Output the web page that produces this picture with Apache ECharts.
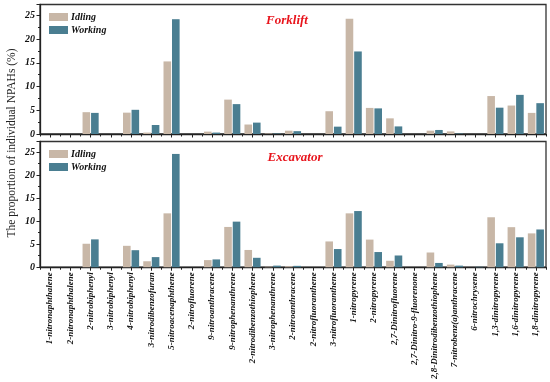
<!DOCTYPE html>
<html>
<head>
<meta charset="utf-8">
<script src="https://cdn.jsdelivr.net/npm/echarts@6/dist/echarts.min.js"></script>
<style>html,body{margin:0;padding:0;background:#fff;}#c{width:550px;height:382px;}</style>
</head>
<body>
<div id="c"></div>
<script>
const categories = ['1-nitronaphthalene','2-nitronaphthalene','2-nitrobiphenyl','3-nitrobiphenyl','4-nitrobiphenyl','3-nitrodibenzofuran','5-nitroacenaphthene','2-nitrofluorene','9-nitroanthracene','9-nitrophenanthrene','2-nitrodibenzothiophene','3-nitrophenanthrene','2-nitroanthracene','2-nitrofluoranthene','3-nitrofluoranthene','1-nitropyrene','2-nitropyrene','2,7-Dinitrofluorene','2,7-Dinitro-9-fluorenone','2,8-Dinitrodibenzothiophene','7-nitrobenz(a)anthracene','6-nitrochrysene','1,3-dinitropyrene','1,6-dinitropyrene','1,8-dinitropyrene'];
const forkliftIdling = [0,0,4.6,0,4.5,0.3,15.3,0,0.5,7.25,2.0,0.1,0.7,0,4.8,24.3,5.5,3.3,0,0.7,0.55,0,8.0,6.0,4.45];
const forkliftWorking = [0,0,4.45,0,5.1,1.9,24.2,0,0.3,6.3,2.4,0.1,0.6,0,1.55,17.4,5.4,1.6,0,0.85,0.1,0,5.55,8.25,6.5];
const excavatorIdling = [0,0,5.1,0,4.65,1.3,11.7,0,1.55,8.75,3.75,0.1,0.2,0,5.6,11.7,6.0,1.4,0,3.2,0.57,0,10.85,8.7,7.35];
const excavatorWorking = [0,0,6.05,0,3.7,2.2,24.6,0,1.7,9.9,2.05,0.35,0.3,0,3.95,12.2,3.3,2.55,0,0.93,0.35,0.1,5.2,6.5,8.2];
const yTicks = {min:0, max:27.3, interval:5};
const panelTitles = ['Forklift','Excavator'];

const C_IDLE = '#c8b7a7', C_WORK = '#4a7e91';
const serif = '"Liberation Serif","Times New Roman",serif';
const chart = echarts.init(document.getElementById('c'));

const grids = [
  {left:40, right:4, top:4.5, height:129.5},
  {left:40, right:4, top:141.5, height:129.5}
];
function xMain(gi, showLabels){
  return {type:'category', gridIndex:gi, data:categories,
    axisLine:{show:true, lineStyle:{color:'#222', width:1.3}},
    axisTick:{show:true, alignWithLabel:true, inside:false, length:3.5, lineStyle:{color:'#222', width:1}},
    axisLabel:{show:showLabels, interval:0, rotate:90, fontFamily:serif, fontStyle:'italic', fontWeight:'bold', fontSize:9, color:'#111', margin:5},
    splitLine:{show:false}};
}
function xMinor(gi){
  return {type:'category', gridIndex:gi, data:categories, position:'bottom',
    axisLine:{show:false}, axisLabel:{show:false},
    axisTick:{show:true, interval:0, alignWithLabel:false, length:2.5, lineStyle:{color:'#222', width:1}},
    splitLine:{show:false}};
}
function yAx(gi){
  return {type:'value', gridIndex:gi, min:yTicks.min, max:yTicks.max, interval:yTicks.interval,
    axisLine:{show:true, lineStyle:{color:'#222', width:1.3}},
    axisTick:{show:true, length:3.5, lineStyle:{color:'#222'}},
    minorTick:{show:true, splitNumber:2, length:2, lineStyle:{color:'#222'}},
    axisLabel:{showMaxLabel:false, fontFamily:serif, fontStyle:'italic', fontWeight:'bold', fontSize:10, color:'#111', margin:5},
    splitLine:{show:false}};
}
function bar(name, data, color, xi, yi){
  return {name, type:'bar', data, xAxisIndex:xi, yAxisIndex:yi, barWidth:7.6, barGap:'12%',
    itemStyle:{color}, emphasis:{disabled:true}};
}
function legend(top){
  return {left:44, top, orient:'vertical', itemWidth:19, itemHeight:8, itemGap:3, selectedMode:false,
    icon:'rect', data:['Idling','Working'],
    textStyle:{fontFamily:serif, fontStyle:'italic', fontWeight:'bold', fontSize:10, color:'#111', padding:[0,0,0,-2]}};
}

chart.setOption({
  animation:false,
  grid: grids.map(g=>Object.assign({show:true, borderColor:'#333', borderWidth:1.3, backgroundColor:'transparent'}, g)),
  xAxis:[xMain(0,false), xMain(1,true), xMinor(0), xMinor(1)],
  yAxis:[yAx(0), yAx(1)],
  legend:[legend(7), legend(144)],
  title:[
    {text:panelTitles[0], left:282, top:9, textAlign:'center', textStyle:{fontFamily:serif, fontStyle:'italic', fontWeight:'bold', fontSize:13, color:'#e8141c'}},
    {text:panelTitles[1], left:290, top:146, textAlign:'center', textStyle:{fontFamily:serif, fontStyle:'italic', fontWeight:'bold', fontSize:13, color:'#e8141c'}}
  ],
  graphic:[{type:'text', x:12, y:143, rotation:Math.PI/2,
    style:{text:'The proportion of individual NPAHs (%)', fontFamily:serif, fontSize:11.5, fill:'#222', align:'center', verticalAlign:'middle'}}],
  series:[
    bar('Idling', forkliftIdling, C_IDLE, 0, 0),
    bar('Working', forkliftWorking, C_WORK, 0, 0),
    bar('Idling', excavatorIdling, C_IDLE, 1, 1),
    bar('Working', excavatorWorking, C_WORK, 1, 1)
  ]
});
</script>
</body>
</html>
